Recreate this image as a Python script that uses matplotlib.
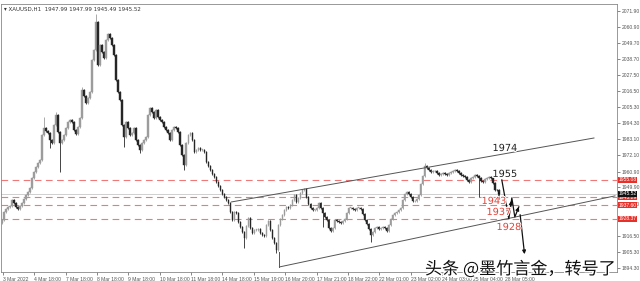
import matplotlib
matplotlib.use("Agg")
import matplotlib.pyplot as plt
import matplotlib.patheffects as pe
import numpy as np

# H1 closes (each entry ~1.5 hourly bars)
closes = [
    # 3 Mar - 4 Mar
    1927.5, 1933.0, 1935.1, 1936.5, 1937.1, 1941.3, 1939.2, 1936.5, 1935.1, 1937.1,
    1939.2, 1942.0, 1944.8, 1946.8, 1949.6, 1956.5, 1960.6, 1964.1, 1966.9, 1968.9,
    # 4 Mar - 8 Mar
    1986.2, 1991.1, 1989.0, 1987.6, 1982.8, 1980.7, 1993.1, 2000.0, 1988.3, 1980.7,
    1982.8, 1986.2, 1991.1, 1995.2, 1996.6, 1995.2, 1989.7, 1986.9, 1991.7, 1998.0,
    2017.3, 2013.2, 2008.3, 2011.8, 2015.9,
    # 8 Mar - 10 Mar
    2038.0, 2045.0, 2064.3, 2034.6, 2048.4, 2043.6, 2039.4, 2051.9, 2056.0, 2053.2,
    2048.4, 2041.5, 2024.2, 2015.9, 2010.4, 1993.1, 1984.8, 1995.2, 1991.1, 1986.2,
    1987.6, 1991.1, 1982.8, 1979.3, 1975.9, 1980.7, 1982.8, 1984.8, 2000.0, 2004.9,
    # 10 Mar - 14 Mar
    2002.1, 1998.0, 2003.5, 1998.7, 1996.6, 1995.2, 1991.7, 1989.7, 1987.6, 1982.8,
    1989.7, 1991.7, 1991.1, 1988.3, 1979.3, 1972.4, 1965.5, 1980.7, 1986.2, 1987.6,
    1982.8, 1974.5, 1975.9, 1977.2, 1975.9, 1975.9, 1974.5, 1967.6, 1964.8, 1962.0,
    1959.3, 1957.2, 1953.7, 1951.0, 1948.2, 1945.4, 1943.4, 1941.3, 1939.2, 1933.0,
    # 14 Mar - 17 Mar
    1927.5, 1933.0, 1932.3, 1926.1, 1922.6, 1919.2, 1915.0, 1923.3, 1928.9, 1921.9,
    1918.5, 1920.6, 1920.6, 1921.2, 1918.5, 1917.1, 1916.4, 1924.0, 1926.8, 1920.6,
    1915.0, 1911.6, 1906.8, 1924.0, 1928.2, 1930.9, 1934.4, 1936.5, 1935.8, 1937.8,
    1941.3, 1944.8, 1939.9, 1942.7, 1946.1, 1948.2, 1948.9, 1943.4, 1938.5, 1935.8,
    # 17 Mar - 23 Mar
    1934.4, 1934.4, 1935.8, 1939.2, 1935.8, 1932.3, 1929.5, 1927.5, 1921.9, 1919.9,
    1921.9, 1927.5, 1926.8, 1926.1, 1925.4, 1926.8, 1928.2, 1932.3, 1935.8, 1935.8,
    1935.1, 1934.4, 1935.8, 1935.8, 1935.1, 1931.6, 1927.5, 1924.7, 1921.2, 1917.1,
    1919.2, 1921.9, 1922.6, 1921.2, 1921.9, 1922.6, 1921.9, 1919.9, 1924.0, 1928.2,
    1930.9, 1932.3, 1933.0, 1934.4, 1935.8,
    # 23 Mar - 28 Mar
    1941.3, 1945.4, 1946.8, 1945.4, 1943.4, 1940.6, 1940.6, 1942.0, 1944.8, 1952.4,
    1957.9, 1964.8, 1963.4, 1962.0, 1960.6, 1961.3, 1961.3, 1960.0, 1958.6, 1959.3,
    1960.0, 1959.3, 1958.6, 1960.0, 1960.6, 1961.3, 1962.0, 1961.3, 1960.0, 1958.6,
    1957.9, 1957.2, 1955.1, 1953.7, 1956.5, 1957.2, 1958.6, 1957.9, 1956.5, 1954.4,
    1953.7, 1955.8, 1956.5, 1957.2, 1956.5, 1953.0, 1948.2, 1947.99, 1945.52,
]
first_open = 1925.4

# long wicks visible on the chart: candle index -> price
high_wicks = {21: 1998.7, 27: 2002.1, 40: 2019.4, 47: 2069.8, 211: 1966.9}
low_wicks = {24: 1977.2, 29: 1960.6, 61: 1978.0, 69: 1973.8, 91: 1962.0,
             121: 1908.0, 137: 1904.7, 160: 1922.6, 184: 1912.3, 238: 1943.4}

x_labels = ["3 Mar 2022", "4 Mar 18:00", "7 Mar 18:00", "8 Mar 18:00", "9 Mar 18:00",
            "10 Mar 18:00", "11 Mar 18:00", "14 Mar 18:00", "15 Mar 19:00", "16 Mar 20:00",
            "17 Mar 21:00", "18 Mar 22:00", "22 Mar 01:00", "23 Mar 02:00", "24 Mar 03:00",
            "25 Mar 04:00", "28 Mar 05:00"]
y_ticks = [2071.90, 2060.90, 2049.70, 2038.70, 2027.50, 2016.50, 2005.30, 1994.30,
           1983.10, 1972.10, 1960.90, 1949.90, 1938.70, 1916.50, 1905.30, 1894.30]

levels = [1955.08, 1943.29, 1937.60, 1928.37]
bid = 1945.52

# hand-drawn channel and projection (index, price)
upper_channel = [(114.5, 1939.9), (295.5, 1984.1)]
lower_channel = [(138.5, 1895.0), (306.0, 1944.1)]
anchor_line = [(138.5, 1905.0), (138.5, 1895.0)]
proj_path = [(249.5, 1955.1), (253.0, 1928.2), (254.5, 1942.7), (256.0, 1929.5), (258.0, 1936.5)]
proj_drop = [(258.5, 1933.0), (261.0, 1901.9)]
small_arrow = [(248.0, 1948.2), (248.0, 1938.5)]
notes = [("1974", 251.0, 1977.2, "#222222"), ("1955", 251.0, 1959.3, "#222222"),
         ("1943", 245.5, 1940.6, "#e0463c"), ("1937", 248.0, 1933.0, "#e0463c"),
         ("1928", 253.0, 1922.6, "#e0463c")]

closes = np.array(closes)
opens = np.concatenate([[first_open], closes[:-1]])
highs = np.maximum(opens, closes) + 0.8
lows = np.minimum(opens, closes) - 0.8
for i, v in high_wicks.items():
    highs[i] = v
for i, v in low_wicks.items():
    lows[i] = v
idx = np.arange(len(closes))

small = dict(family=["Liberation Sans", "DejaVu Sans"], size=3.6)

fig = plt.figure(figsize=(6.4, 2.81), dpi=100)
ax = fig.add_axes([1 / 640, 9 / 281, 616 / 640, 268 / 281])
ax.set_xlim(-0.5, 307)
ax.set_ylim(1891.5, 2076.7)

up = closes >= opens
col = np.where(up, "#9c9c9c", "#262626")
ax.vlines(idx, lows, highs, colors=col, lw=0.6, zorder=3)
ax.bar(idx, np.maximum(np.abs(closes - opens), 0.3), bottom=np.minimum(opens, closes),
       width=0.8, color=col, edgecolor=col, lw=0.3, zorder=4)

for lv in levels:
    ax.axhline(lv, color="#f07878", lw=0.8, ls=(0, (6, 4)), zorder=2)
ax.axhline(bid, color="#c8c8c8", lw=0.6, zorder=2)

for line in (upper_channel, lower_channel, anchor_line):
    xs, ys = zip(*line)
    ax.plot(xs, ys, color="#555555", lw=0.7, zorder=5)

xs, ys = zip(*proj_path)
ax.plot(xs, ys, color="#111111", lw=0.9, zorder=6)
ax.annotate("", xy=proj_path[2], xytext=(253.6, 1934.0),
            arrowprops=dict(arrowstyle="-|>", color="#111111", lw=0.9, mutation_scale=5), zorder=6)
ax.annotate("", xy=proj_path[4], xytext=(257.0, 1933.0),
            arrowprops=dict(arrowstyle="-|>", color="#111111", lw=0.9, mutation_scale=5), zorder=6)
ax.annotate("", xy=proj_drop[1], xytext=proj_drop[0],
            arrowprops=dict(arrowstyle="-|>", color="#111111", lw=0.9, mutation_scale=5), zorder=6)
ax.annotate("", xy=small_arrow[1], xytext=small_arrow[0],
            arrowprops=dict(arrowstyle="-|>", color="#111111", lw=0.8, mutation_scale=4), zorder=6)

for txt, x, y, c in notes:
    ax.text(x, y, txt, color=c, fontsize=7, ha="center", va="center", zorder=7,
            path_effects=[pe.withStroke(linewidth=1.5, foreground="white")])

# axes look
for s in ax.spines.values():
    s.set_color("#888888")
    s.set_linewidth(0.6)
ax.yaxis.tick_right()
ax.set_yticks(y_ticks)
ax.set_yticklabels([f"{v:.2f}" for v in y_ticks], **small)
ax.tick_params(axis="y", length=2, width=0.5, colors="#555555", pad=1.2)
ticks_x = 0.5 + 15.65 * np.arange(len(x_labels))
ax.set_xticks(ticks_x)
ax.set_xticklabels(x_labels, **small)
ax.tick_params(axis="x", length=2, width=0.5, colors="#555555", pad=1.5)
for lab in ax.get_xticklabels():
    lab.set_ha("left")

# price tags on the right scale
for lv in levels:
    ax.text(1.002, lv, f"{lv:.2f}", transform=ax.get_yaxis_transform(), color="white",
            va="center", ha="left", zorder=8,
            bbox=dict(boxstyle="square,pad=0.1", fc="#e8302a", ec="none"), **small)
ax.text(1.002, bid, f"{bid:.2f}", transform=ax.get_yaxis_transform(), color="white",
        va="center", ha="left", zorder=9,
        bbox=dict(boxstyle="square,pad=0.1", fc="#111111", ec="none"), **small)

fig.text(0.006, 0.975, "▾ XAUUSD,H1  1947.99 1947.99 1945.49 1945.52", fontsize=4,
         color="#333333", va="top", ha="left")

fig.text(0.664, 0.01, "头条 @墨竹言金，转号了", fontsize=12.3, color="#111111",
         family=["Noto Sans CJK SC", "DejaVu Sans"], ha="left", va="bottom", zorder=10,
         path_effects=[pe.withStroke(linewidth=2, foreground="white")])

fig.savefig("out.png", dpi=100, facecolor="white")
